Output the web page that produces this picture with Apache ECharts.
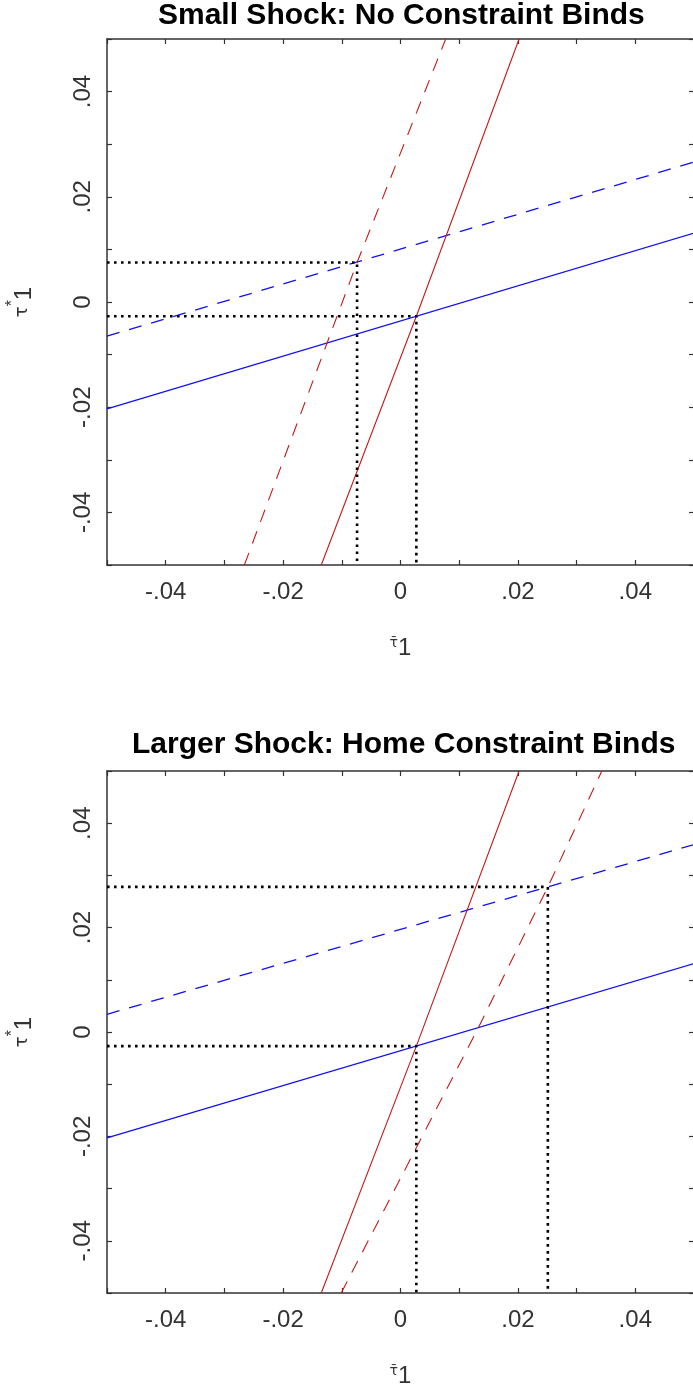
<!DOCTYPE html>
<html>
<head>
<meta charset="utf-8">
<script src="https://cdn.jsdelivr.net/npm/echarts@6/dist/echarts.min.js"></script>
<style>html,body{margin:0;padding:0;background:#fff;overflow:hidden;}#c{width:693px;height:1388px;}</style>
</head>
<body>
<div id="c"></div>
<script>
// ---- data ----
var titles = ['Small Shock: No Constraint Binds', 'Larger Shock: Home Constraint Binds'];
var tickValues = [-4, -2, 0, 2, 4];           // in hundredths
var tickLabels = ['-.04', '-.02', '0', '.02', '.04'];

// Top panel
var topBlueSolid  = [[-0.05, -0.0203], [0.05, 0.0131]];
var topBlueDashed = [[-0.05, -0.0065], [0.05, 0.0266]];
var topRedSolid   = [[-0.0135, -0.05], [0.0027, -0.0027], [0.0202, 0.05]];
var topRedDashed  = [[-0.0266, -0.05], [-0.0074, 0.0075], [0.0077, 0.05]];
var topEqDashed   = [-0.0074, 0.0075];
var topEqSolid    = [0.0027, -0.0027];

// Bottom panel
var botBlueSolid  = [[-0.05, -0.0203], [0.05, 0.0131]];
var botBlueDashed = [[-0.05, 0.0034], [0.05, 0.0359]];
var botRedSolid   = [[-0.0135, -0.05], [0.0027, -0.0027], [0.0202, 0.05]];
var botRedDashed  = [[-0.0101, -0.05], [0.0133, 0.0009], [0.0251, 0.0278], [0.0343, 0.05]];
var botEqDashed   = [0.0251, 0.0278];
var botEqSolid    = [0.0027, -0.0027];

var axisMin = -0.05, axisMax = 0.05;

// ---- helpers ----
var FONT = 'Liberation Sans';
var AX = '#333';
function fmt(v) {
  var k = Math.round(v * 100);
  var i = tickValues.indexOf(k);
  return i >= 0 ? tickLabels[i] : '';
}
function dropLines(p) {
  return [[axisMin, p[1]], [p[0], p[1]], [p[0], axisMin]];
}
function baseAxis(grid, pos, showLabel) {
  return {
    type: 'value', gridIndex: grid, position: pos,
    min: axisMin, max: axisMax, interval: 0.01,
    axisLine: { show: true, onZero: false, lineStyle: { color: AX, width: 1.5 } },
    axisTick: { show: true, inside: true, length: 5, lineStyle: { color: AX, width: 1.2 } },
    axisLabel: { show: showLabel, formatter: fmt, fontFamily: FONT, fontSize: 24, color: '#333' },
    splitLine: { show: false }
  };
}
var xName = {
  name: '{t|\u03C4\u0304}{n|1}', nameLocation: 'middle', nameGap: 71,
  nameTextStyle: { rich: {
    t: { fontFamily: 'DejaVu Sans', fontSize: 14, color: '#333', padding: [0, 0, 10, 0] },
    n: { fontFamily: FONT, fontSize: 24, color: '#333' }
  } }
};
var yName = {
  name: '{t|\u03C4}{s|*}{n|1}', nameLocation: 'middle', nameGap: 64, nameRotate: 90,
  nameTextStyle: { rich: {
    t: { fontFamily: 'DejaVu Sans', fontSize: 18, color: '#333', padding: [0, 0, 4, 0] },
    s: { fontFamily: FONT, fontSize: 16, color: '#333', padding: [0, 0, 22, 0] },
    n: { fontFamily: FONT, fontSize: 24, color: '#333', padding: [0, 0, 0, 0] }
  } }
};
function mkX(grid, pos, show) {
  var a = baseAxis(grid, pos, show);
  if (show) { Object.assign(a, xName); a.axisLabel.margin = 15; }
  return a;
}
function mkY(grid, pos, show) {
  var a = baseAxis(grid, pos, show);
  if (show) { Object.assign(a, yName); a.axisLabel.rotate = 90; a.axisLabel.margin = 12; }
  return a;
}
function line(data, xi, yi, color, dashed, w) {
  return {
    type: 'line', data: data, xAxisIndex: xi, yAxisIndex: yi,
    showSymbol: false, symbol: 'none', silent: true, animation: false,
    lineStyle: { color: color, width: w, type: dashed ? [13, 10] : 'solid' }
  };
}
function dots(p, xi, yi) {
  return {
    type: 'line', data: dropLines(p), xAxisIndex: xi, yAxisIndex: yi,
    showSymbol: false, symbol: 'none', silent: true, animation: false, z: 5,
    lineStyle: { color: '#000', width: 2.6, type: [2.6, 4.4], cap: 'butt' }
  };
}
var BLUE = '#1010f0', RED = '#c81818';

var option = {
  backgroundColor: '#fff',
  animation: false,
  title: [
    { text: titles[0], left: 158, top: 1, padding: 0,
      textStyle: { fontFamily: FONT, fontSize: 30, fontWeight: 'bold', color: '#000' } },
    { text: titles[1], left: 132, top: 730, padding: 0,
      textStyle: { fontFamily: FONT, fontSize: 30, fontWeight: 'bold', color: '#000' } }
  ],
  grid: [
    { left: 107, top: 39, width: 587, height: 526, containLabel: false, outerBoundsMode: 'none' },
    { left: 107, top: 771, width: 587, height: 522, containLabel: false, outerBoundsMode: 'none' }
  ],
  xAxis: [mkX(0, 'bottom', true), mkX(0, 'top', false), mkX(1, 'bottom', true), mkX(1, 'top', false)],
  yAxis: [mkY(0, 'left', true), mkY(0, 'right', false), mkY(1, 'left', true), mkY(1, 'right', false)],
  series: [
    line(topBlueSolid, 0, 0, BLUE, false, 1.3),
    line(topBlueDashed, 0, 0, BLUE, true, 1.3),
    line(topRedSolid, 0, 0, RED, false, 1.1),
    line(topRedDashed, 0, 0, RED, true, 1.1),
    dots(topEqDashed, 0, 0),
    dots(topEqSolid, 0, 0),
    line(botBlueSolid, 2, 2, BLUE, false, 1.3),
    line(botBlueDashed, 2, 2, BLUE, true, 1.3),
    line(botRedSolid, 2, 2, RED, false, 1.1),
    line(botRedDashed, 2, 2, RED, true, 1.1),
    dots(botEqDashed, 2, 2),
    dots(botEqSolid, 2, 2)
  ]
};
var chart = echarts.init(document.getElementById('c'), null, { renderer: 'canvas' });
chart.setOption(option);
</script>
</body>
</html>
